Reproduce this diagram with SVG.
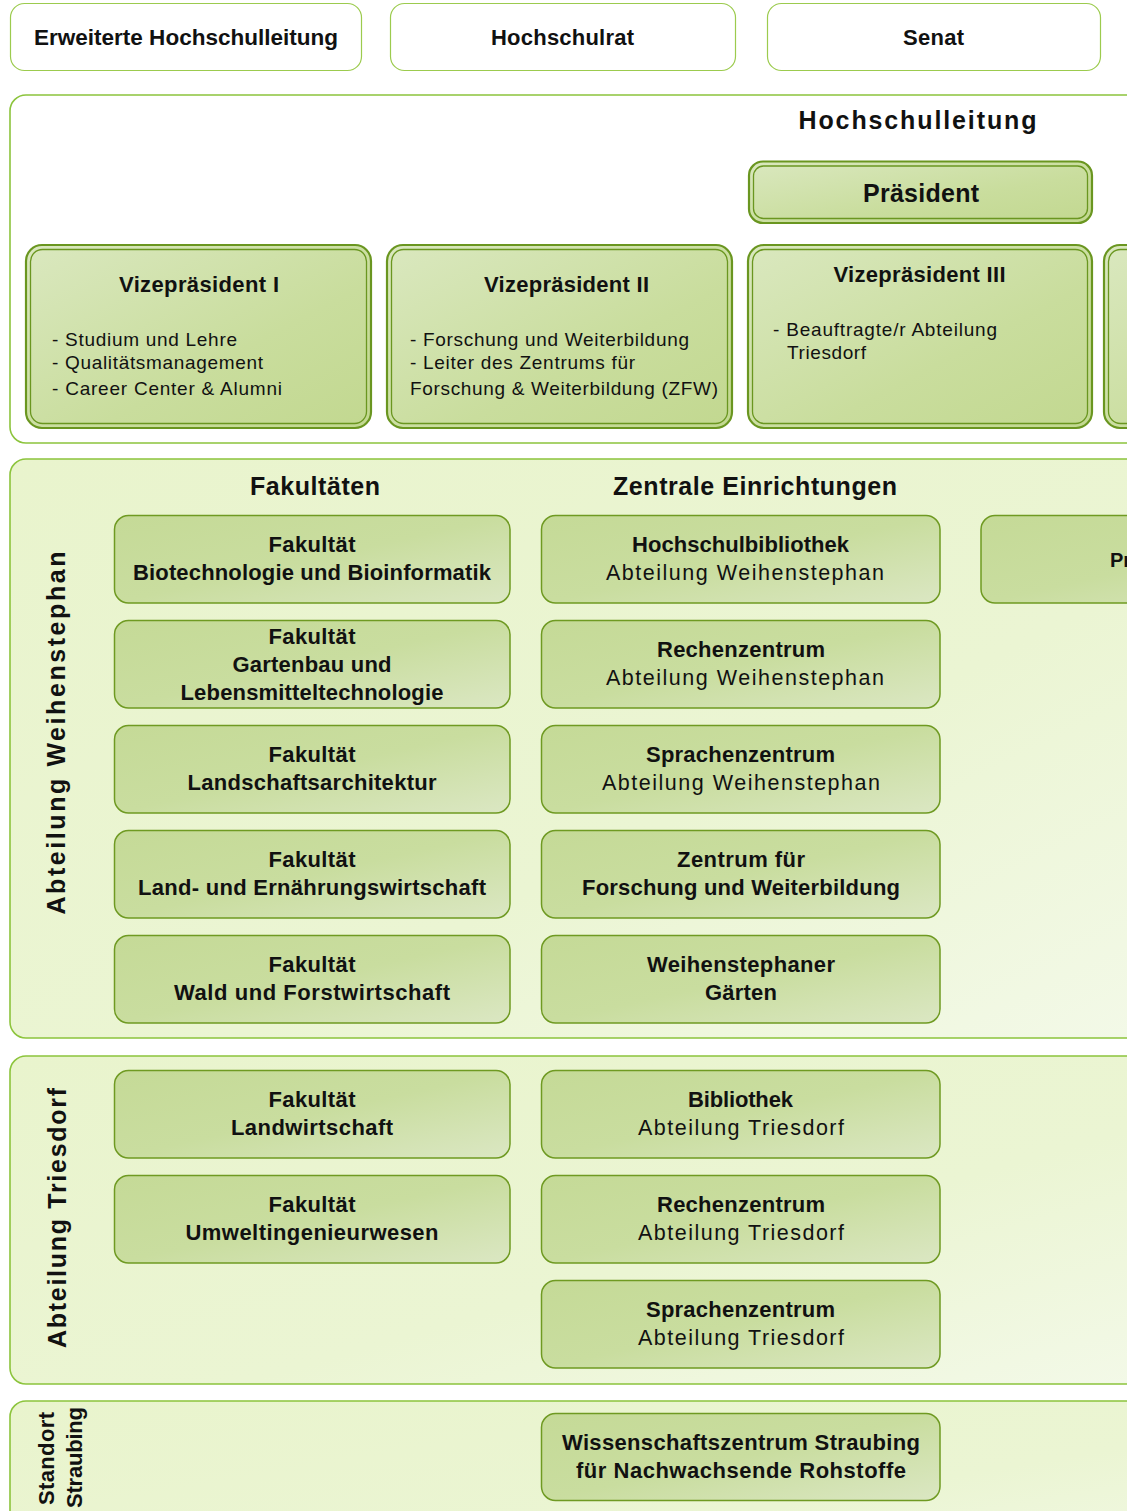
<svg xmlns="http://www.w3.org/2000/svg" width="1127" height="1511" viewBox="0 0 1127 1511">
  <style>
    text { font-family: "Liberation Sans", Arial, sans-serif; fill: #111; }
    .top { fill: #fff; stroke: #9ccb4e; stroke-width: 1.2; }
    .panel-white { fill: #fff; stroke: #8cc43c; stroke-width: 1.6; }
    .panel { fill: url(#gPanel); stroke: #8cc43c; stroke-width: 1.6; }
    .node { fill: url(#gNode); stroke: #6f9a22; stroke-width: 1.5; }
    .lead-out { fill: url(#gLead); stroke: #6a9620; stroke-width: 2.2; }
    .lead-in { fill: none; stroke: #6a9620; stroke-width: 1.3; }
    .h-top { font-size: 22px; font-weight: bold; text-anchor: middle; }
    .h-big { font-size: 25px; font-weight: bold; text-anchor: middle; }
    .h-vize { font-size: 22px; font-weight: bold; text-anchor: middle; }
    .bullet { font-size: 19px; }
    .sec { font-size: 25px; font-weight: bold; text-anchor: middle; }
    .nb { font-size: 22px; font-weight: bold; text-anchor: middle; }
    .nr { font-size: 21.5px; text-anchor: middle; }
    .side { font-size: 25px; font-weight: bold; text-anchor: middle; }
    .side-s { font-size: 22px; font-weight: bold; }
  </style>
  <defs>
    <linearGradient id="gNode" x1="0" y1="0" x2="1" y2="1">
      <stop offset="0" stop-color="#c5da97"/>
      <stop offset="0.5" stop-color="#c9dd9f"/>
      <stop offset="1" stop-color="#dbe7c3"/>
    </linearGradient>
    <linearGradient id="gLead" x1="0" y1="0" x2="1" y2="1">
      <stop offset="0" stop-color="#dae8bf"/>
      <stop offset="0.6" stop-color="#c9dd9d"/>
      <stop offset="1" stop-color="#c2d890"/>
    </linearGradient>
    <linearGradient id="gPanel" x1="0" y1="0" x2="1" y2="1">
      <stop offset="0" stop-color="#e9f4cd"/>
      <stop offset="0.6" stop-color="#ebf5d3"/>
      <stop offset="1" stop-color="#f3f9e8"/>
    </linearGradient>
  </defs>

  <!-- committees along the top -->
  <g id="erweiterte-hochschulleitung">
    <rect class="top" x="10.5" y="3.5" width="351" height="67" rx="14"/>
    <text class="h-top" x="186" y="44.5" textLength="304" lengthAdjust="spacingAndGlyphs">Erweiterte Hochschulleitung</text>
  </g>
  <g id="hochschulrat">
    <rect class="top" x="390.5" y="3.5" width="345" height="67" rx="14"/>
    <text class="h-top" x="562.5" y="44.5" textLength="143">Hochschulrat</text>
  </g>
  <g id="senat">
    <rect class="top" x="767.5" y="3.5" width="333" height="67" rx="14"/>
    <text class="h-top" x="933.5" y="44.5" textLength="61">Senat</text>
  </g>

  <!-- executive board -->
  <g id="hochschulleitung">
    <rect class="panel-white" x="10" y="95" width="1150" height="348" rx="16"/>
    <text class="h-big" x="917.5" y="129" textLength="238">Hochschulleitung</text>
  </g>
  <g id="praesident">
    <rect class="lead-out" x="749" y="161.5" width="343" height="61.5" rx="14"/>
    <rect class="lead-in" x="753.5" y="166" width="334" height="52.5" rx="10"/>
    <text class="h-big" x="921" y="201.5" textLength="116">Präsident</text>
  </g>
  <g id="vizepraesident-1">
    <rect class="lead-out" x="26" y="245" width="345" height="183" rx="16"/>
    <rect class="lead-in" x="30.5" y="249.5" width="336" height="174" rx="12"/>
    <text class="h-vize" x="199" y="292" textLength="160">Vizepräsident I</text>
    <text class="bullet" x="52" y="346" textLength="185">- Studium und Lehre</text>
    <text class="bullet" x="52" y="369" textLength="211">- Qualitätsmanagement</text>
    <text class="bullet" x="52" y="395" textLength="230">- Career Center &amp; Alumni</text>
  </g>
  <g id="vizepraesident-2">
    <rect class="lead-out" x="387" y="245" width="345" height="183" rx="16"/>
    <rect class="lead-in" x="391.5" y="249.5" width="336" height="174" rx="12"/>
    <text class="h-vize" x="566.5" y="292" textLength="165">Vizepräsident II</text>
    <text class="bullet" x="410" y="346" textLength="279">- Forschung und Weiterbildung</text>
    <text class="bullet" x="410" y="369" textLength="225">- Leiter des Zentrums für</text>
    <text class="bullet" x="410" y="395" textLength="308">Forschung &amp; Weiterbildung (ZFW)</text>
  </g>
  <g id="vizepraesident-3">
    <rect class="lead-out" x="748" y="245" width="344" height="183" rx="16"/>
    <rect class="lead-in" x="752.5" y="249.5" width="335" height="174" rx="12"/>
    <text class="h-vize" x="919.5" y="282" textLength="172">Vizepräsident III</text>
    <text class="bullet" x="773" y="336" textLength="224">- Beauftragte/r Abteilung</text>
    <text class="bullet" x="787" y="359" textLength="79">Triesdorf</text>
  </g>
  <g id="vizepraesident-4">
    <rect class="lead-out" x="1104" y="245" width="344" height="183" rx="16"/>
    <rect class="lead-in" x="1108.5" y="249.5" width="335" height="174" rx="12"/>
  </g>

  <!-- Weihenstephan division -->
  <g id="abteilung-weihenstephan">
    <rect class="panel" x="10" y="459" width="1150" height="579" rx="16"/>
    <text class="side" transform="translate(65,733) rotate(-90)" textLength="363">Abteilung Weihenstephan</text>
    <text class="sec" x="315" y="495" textLength="130">Fakultäten</text>
    <text class="sec" x="755" y="495" textLength="284">Zentrale Einrichtungen</text>
  </g>

  <g id="fak-biotechnologie">
    <rect class="node" x="114.5" y="515.5" width="395.5" height="87.5" rx="14"/>
    <text class="nb" x="312" y="551.5" textLength="87">Fakultät</text>
    <text class="nb" x="312" y="580" textLength="358">Biotechnologie und Bioinformatik</text>
  </g>
  <g id="fak-gartenbau">
    <rect class="node" x="114.5" y="620.5" width="395.5" height="87.5" rx="14"/>
    <text class="nb" x="312" y="643.5" textLength="87">Fakultät</text>
    <text class="nb" x="312" y="671.5" textLength="159">Gartenbau und</text>
    <text class="nb" x="312" y="699.5" textLength="263">Lebensmitteltechnologie</text>
  </g>
  <g id="fak-landschaftsarchitektur">
    <rect class="node" x="114.5" y="725.5" width="395.5" height="87.5" rx="14"/>
    <text class="nb" x="312" y="761.5" textLength="87">Fakultät</text>
    <text class="nb" x="312" y="790" textLength="249">Landschaftsarchitektur</text>
  </g>
  <g id="fak-land-ernaehrung">
    <rect class="node" x="114.5" y="830.5" width="395.5" height="87.5" rx="14"/>
    <text class="nb" x="312" y="866.5" textLength="87">Fakultät</text>
    <text class="nb" x="312" y="895" textLength="348">Land- und Ernährungswirtschaft</text>
  </g>
  <g id="fak-wald">
    <rect class="node" x="114.5" y="935.5" width="395.5" height="87.5" rx="14"/>
    <text class="nb" x="312" y="971.5" textLength="87">Fakultät</text>
    <text class="nb" x="312" y="1000" textLength="276">Wald und Forstwirtschaft</text>
  </g>

  <g id="ze-bibliothek-ws">
    <rect class="node" x="541.5" y="515.5" width="398.5" height="87.5" rx="14"/>
    <text class="nb" x="740.5" y="551.5" textLength="217">Hochschulbibliothek</text>
    <text class="nr" x="745" y="580" textLength="278">Abteilung Weihenstephan</text>
  </g>
  <g id="ze-rechenzentrum-ws">
    <rect class="node" x="541.5" y="620.5" width="398.5" height="87.5" rx="14"/>
    <text class="nb" x="741" y="656.5" textLength="168">Rechenzentrum</text>
    <text class="nr" x="745" y="685" textLength="278">Abteilung Weihenstephan</text>
  </g>
  <g id="ze-sprachenzentrum-ws">
    <rect class="node" x="541.5" y="725.5" width="398.5" height="87.5" rx="14"/>
    <text class="nb" x="740.5" y="761.5" textLength="189">Sprachenzentrum</text>
    <text class="nr" x="741" y="790" textLength="278">Abteilung Weihenstephan</text>
  </g>
  <g id="ze-zfw">
    <rect class="node" x="541.5" y="830.5" width="398.5" height="87.5" rx="14"/>
    <text class="nb" x="741" y="866.5" textLength="128">Zentrum für</text>
    <text class="nb" x="741" y="895" textLength="318">Forschung und Weiterbildung</text>
  </g>
  <g id="ze-gaerten">
    <rect class="node" x="541.5" y="935.5" width="398.5" height="87.5" rx="14"/>
    <text class="nb" x="741" y="971.5" textLength="188">Weihenstephaner</text>
    <text class="nb" x="741" y="1000" textLength="72">Gärten</text>
  </g>
  <g id="pr-node">
    <rect class="node" x="981" y="515.5" width="400" height="87.5" rx="14"/>
    <text class="nb" x="1110" y="566.5" style="text-anchor:start;font-size:20px">Pr</text>
  </g>

  <!-- Triesdorf division -->
  <g id="abteilung-triesdorf">
    <rect class="panel" x="10" y="1056" width="1150" height="328" rx="16"/>
    <text class="side" transform="translate(66,1218) rotate(-90)" textLength="260">Abteilung Triesdorf</text>
  </g>
  <g id="fak-landwirtschaft">
    <rect class="node" x="114.5" y="1070.5" width="395.5" height="87.5" rx="14"/>
    <text class="nb" x="312" y="1106.5" textLength="87">Fakultät</text>
    <text class="nb" x="312" y="1135" textLength="162">Landwirtschaft</text>
  </g>
  <g id="fak-umweltingenieurwesen">
    <rect class="node" x="114.5" y="1175.5" width="395.5" height="87.5" rx="14"/>
    <text class="nb" x="312" y="1211.5" textLength="87">Fakultät</text>
    <text class="nb" x="312" y="1240" textLength="253">Umweltingenieurwesen</text>
  </g>
  <g id="ze-bibliothek-td">
    <rect class="node" x="541.5" y="1070.5" width="398.5" height="87.5" rx="14"/>
    <text class="nb" x="740.5" y="1106.5" textLength="105">Bibliothek</text>
    <text class="nr" x="741" y="1135" textLength="206">Abteilung Triesdorf</text>
  </g>
  <g id="ze-rechenzentrum-td">
    <rect class="node" x="541.5" y="1175.5" width="398.5" height="87.5" rx="14"/>
    <text class="nb" x="741" y="1211.5" textLength="168">Rechenzentrum</text>
    <text class="nr" x="741" y="1240" textLength="206">Abteilung Triesdorf</text>
  </g>
  <g id="ze-sprachenzentrum-td">
    <rect class="node" x="541.5" y="1280.5" width="398.5" height="87.5" rx="14"/>
    <text class="nb" x="740.5" y="1316.5" textLength="189">Sprachenzentrum</text>
    <text class="nr" x="741" y="1345" textLength="206">Abteilung Triesdorf</text>
  </g>

  <!-- Straubing site -->
  <g id="standort-straubing">
    <rect class="panel" x="10" y="1401" width="1150" height="200" rx="16"/>
    <text class="side-s" transform="translate(54,1505) rotate(-90)" textLength="93">Standort</text>
    <text class="side-s" transform="translate(82,1508) rotate(-90)" textLength="101">Straubing</text>
  </g>
  <g id="wz-straubing">
    <rect class="node" x="541.5" y="1413.5" width="398.5" height="87" rx="14"/>
    <text class="nb" x="741" y="1449.5" textLength="358">Wissenschaftszentrum Straubing</text>
    <text class="nb" x="741" y="1478" textLength="330">für Nachwachsende Rohstoffe</text>
  </g>

  <!-- the chart has no drawn connectors -->
  <g id="connectors"/>
</svg>
